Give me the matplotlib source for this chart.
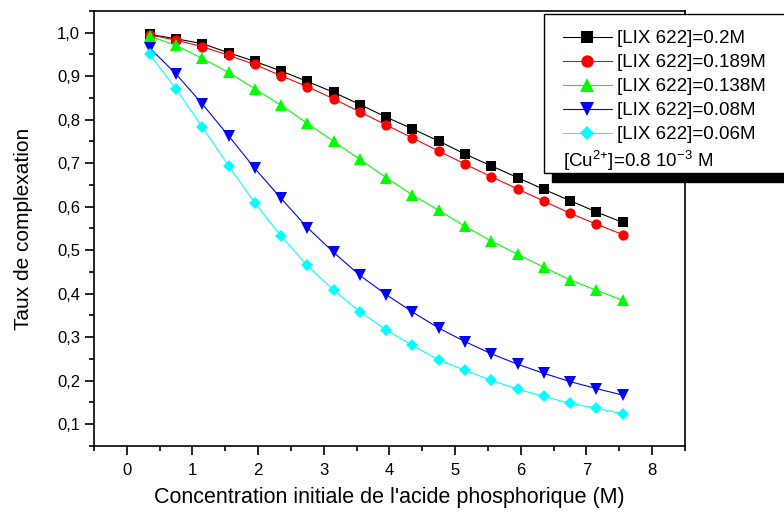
import numpy as np
import matplotlib
matplotlib.use('Agg')
from matplotlib import pyplot as plt
from matplotlib.patches import Rectangle
from matplotlib.ticker import MultipleLocator, FuncFormatter

plt.rcParams['font.family'] = ['Liberation Sans', 'DejaVu Sans']
plt.rcParams['mathtext.fontset'] = 'custom'
plt.rcParams['mathtext.rm'] = 'Liberation Sans'

# concentration initiale H3PO4 (M)
conc = [0.35, 0.75, 1.15, 1.55, 1.95, 2.35, 2.75, 3.15, 3.55, 3.95,
        4.35, 4.75, 5.15, 5.55, 5.95, 6.35, 6.75, 7.15, 7.55]

# taux de complexation pour chaque [LIX 622]
lix_020 = [0.996, 0.986, 0.975, 0.954, 0.934, 0.912, 0.888, 0.863, 0.835, 0.806,
           0.779, 0.751, 0.721, 0.694, 0.667, 0.640, 0.614, 0.588, 0.564]
lix_0189 = [0.995, 0.983, 0.968, 0.948, 0.927, 0.901, 0.876, 0.848, 0.818, 0.788,
            0.758, 0.728, 0.698, 0.669, 0.641, 0.613, 0.585, 0.560, 0.536]
lix_0138 = [0.992, 0.971, 0.941, 0.909, 0.871, 0.833, 0.792, 0.750, 0.709, 0.667,
            0.627, 0.592, 0.555, 0.521, 0.491, 0.461, 0.432, 0.408, 0.385]
lix_008 = [0.965, 0.905, 0.836, 0.763, 0.688, 0.619, 0.552, 0.495, 0.442, 0.398,
           0.358, 0.321, 0.290, 0.262, 0.238, 0.217, 0.198, 0.182, 0.167]
lix_006 = [0.950, 0.871, 0.783, 0.694, 0.609, 0.532, 0.465, 0.408, 0.359, 0.317,
           0.281, 0.248, 0.224, 0.201, 0.181, 0.164, 0.148, 0.137, 0.124]

labels = ['[LIX 622]=0.2M', '[LIX 622]=0.189M', '[LIX 622]=0.138M',
          '[LIX 622]=0.08M', '[LIX 622]=0.06M']
series = [lix_020, lix_0189, lix_0138, lix_008, lix_006]
colors = ['#000000', '#ff0000', '#00ff00', '#0000ff', '#00ffff']
markers = ['s', 'o', '^', 'v', 'D']
msizes = [6.8, 7.4, 8.2, 8.2, 5.9]

fig = plt.figure(figsize=(7.84, 5.16), dpi=100)
ax = fig.add_axes([0.1199, 0.1357, 0.7538, 0.843])

handles = []
for y, lab, col, m, ms in zip(series, labels, colors, markers, msizes):
    h, = ax.plot(conc, y, color=col, marker=m, markersize=ms, markeredgewidth=0,
                 linewidth=0.8, label=lab)
    handles.append(h)

ax.set_xlim(-0.5, 8.5)
ax.set_ylim(0.05, 1.05)
ax.xaxis.set_major_locator(MultipleLocator(1))
ax.xaxis.set_minor_locator(MultipleLocator(0.5))
ax.yaxis.set_major_locator(MultipleLocator(0.1))
ax.yaxis.set_minor_locator(MultipleLocator(0.05))
ax.yaxis.set_major_formatter(FuncFormatter(lambda v, p: ('%.1f' % v).replace('.', ',')))

for s in ax.spines.values():
    s.set_linewidth(1.2)
ax.tick_params(axis='both', which='major', direction='out', length=6.5, width=1.2, labelsize=12)
ax.tick_params(axis='both', which='minor', direction='out', length=3.6, width=1.2)
ax.tick_params(axis='x', which='major', pad=6)

ax.set_xlabel("Concentration initiale de l'acide phosphorique (M)", fontsize=15.5, labelpad=6)
ax.set_ylabel('Taux de complexation', fontsize=15, labelpad=17)

# legend box with black shadow (figure level so it sits above the axes)
box_x0, box_y0, box_x1, box_y1 = 544, 14, 792, 173
fig.add_artist(Rectangle(((box_x0 + 8) / 784, 1 - (box_y1 + 9) / 516),
                         (box_x1 - box_x0) / 784, (box_y1 - box_y0) / 516,
                         transform=fig.transFigure, facecolor='black',
                         edgecolor='black', zorder=2))
fig.add_artist(Rectangle((box_x0 / 784, 1 - box_y1 / 516),
                         (box_x1 - box_x0) / 784, (box_y1 - box_y0) / 516,
                         transform=fig.transFigure, facecolor='white',
                         edgecolor='black', linewidth=1.0, zorder=3))

leg = fig.legend(handles, labels, loc='upper left',
                 bbox_to_anchor=(563 / 784, 1 - 30 / 516),
                 fontsize=13.5, frameon=False, markerscale=1.2,
                 handlelength=2.6, handletextpad=0.3, labelspacing=0.37,
                 borderpad=0, borderaxespad=0)
leg.set_zorder(5)

fig.text(563 / 784, 1 - 161 / 516, r'[Cu$^{2{+}}$]=0.8 10$^{-3}$ M', fontsize=13.5,
         va='center', ha='left', zorder=6)

fig.savefig('out.png', dpi=100)
